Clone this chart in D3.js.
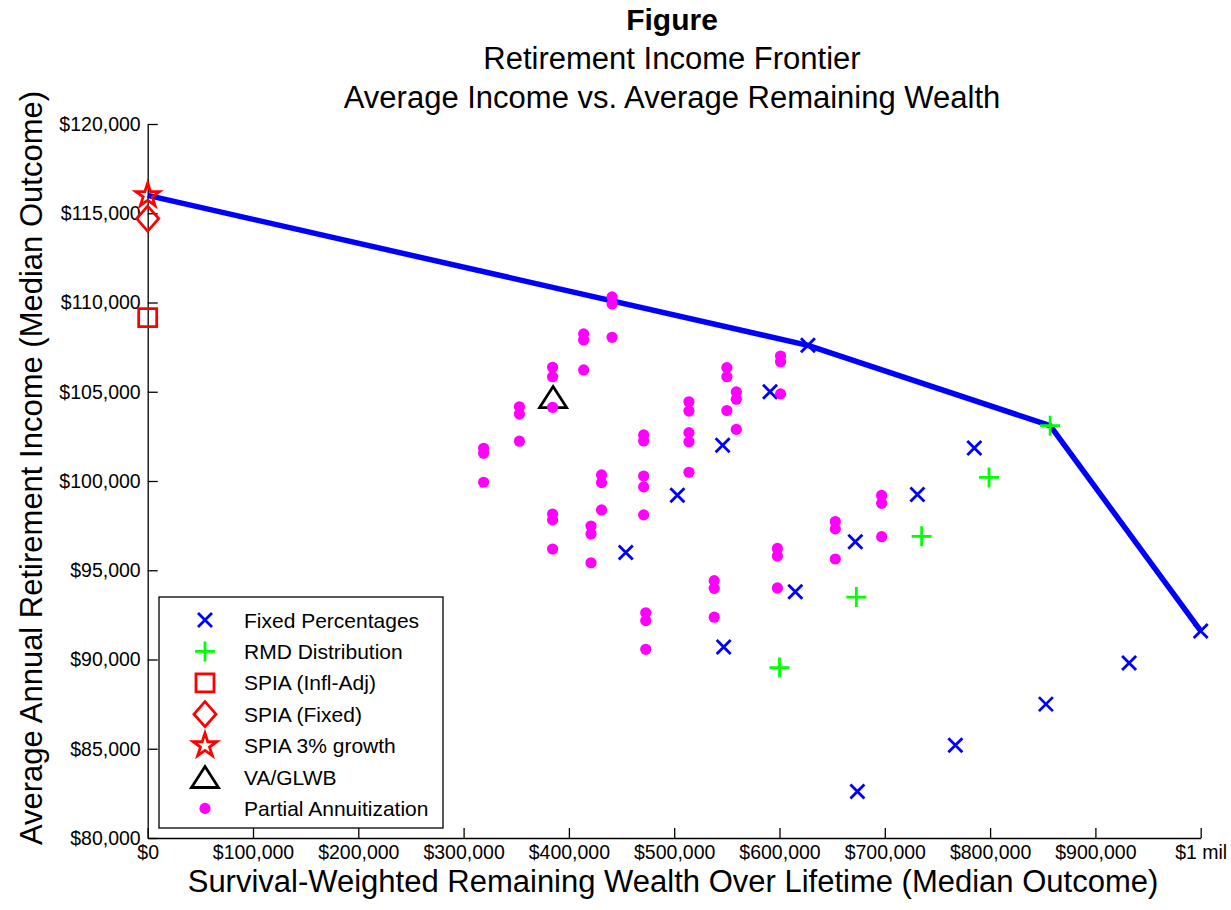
<!DOCTYPE html>
<html>
<head>
<meta charset="utf-8">
<title>Retirement Income Frontier</title>
<script src="https://cdn.jsdelivr.net/npm/d3@7"></script>
<style>
  body { margin: 0; background: #fff; }
  svg { display: block; font-family: "Liberation Sans", Arial, Helvetica, sans-serif; }
  .axis path, .axis line { stroke: #000; stroke-width: 1.3; }
  .axis text { font-size: 19.5px; fill: #000; font-family: "Liberation Sans", Arial, Helvetica, sans-serif; }
</style>
</head>
<body>
<script>
// ---------------------- DATA ----------------------

const fixedWealth = [627000, 591000, 546000, 503000, 454000, 547000, 615000, 672000, 731000, 785000, 1000000, 932000, 853000, 767000, 674000];
const fixedIncome = [107600, 105000, 102000, 99200, 96000, 90700, 93800, 96600, 99250, 101850, 91600, 89800, 87500, 85200, 82600];

const rmdWealth = [857000, 799000, 735000, 673000, 600000];
const rmdIncome = [103100, 100200, 96900, 93500, 89550];

const spiaInflWealth = [0];
const spiaInflIncome = [109150];
const spiaFixedWealth = [0];
const spiaFixedIncome = [114700];
const spia3Wealth = [0];
const spia3Income = [116000];

const vaWealth = [385000];
const vaIncome = [104700];

const partialWealth = [
    319000, 319000, 319000,
    353000, 353000, 353000,
    384500, 384500, 384500, 384500, 384500, 384500,
    414000, 414000, 414000,
    421000, 421000, 421000,
    431000, 431000, 431000,
    441000, 441000, 441000,
    471000, 471000, 471000, 471000, 471000,
    473000, 473000, 473000,
    514000, 514000, 514000, 514000, 514000,
    538000, 538000, 538000,
    550000, 550000, 550000,
    559000, 559000, 559000,
    598000, 598000, 598000,
    601000, 601000, 601000,
    653000, 653000, 653000,
    697000, 697000, 697000
];
const partialIncome = [
    101830, 101550, 99930,
    104160, 103750, 102230,
    106370, 105840, 104130, 98150, 97820, 96190,
    108240, 107900, 106220,
    97480, 97030, 95420,
    100340, 99910, 98380,
    110310, 109920, 108050,
    102580, 102240, 100280, 99670, 98100,
    92620, 92180, 90570,
    104440, 103920, 102710, 102200, 100490,
    94420, 93990, 92370,
    106350, 105840, 103950,
    104990, 104580, 102890,
    96220, 95800, 94010,
    107000, 106680, 104880,
    97730, 97320, 95630,
    99190, 98750, 96880
];

// frontier goes through: SPIA 3% growth, one fixed %, one RMD, the $1 mil fixed %
const frontierWealth = [spia3Wealth[0], fixedWealth[0], rmdWealth[0], fixedWealth[10]];
const frontierIncome = [spia3Income[0], fixedIncome[0], rmdIncome[0], fixedIncome[10]];

const xTickValues = [0, 100000, 200000, 300000, 400000, 500000, 600000, 700000, 800000, 900000, 1000000];
const xTickLabels = ["$0", "$100,000", "$200,000", "$300,000", "$400,000", "$500,000", "$600,000", "$700,000", "$800,000", "$900,000", "$1 mil"];
const yTickValues = [80000, 85000, 90000, 95000, 100000, 105000, 110000, 115000, 120000];
const yTickLabels = ["$80,000", "$85,000", "$90,000", "$95,000", "$100,000", "$105,000", "$110,000", "$115,000", "$120,000"];

const titleLines = ["Figure", "Retirement Income Frontier", "Average Income vs. Average Remaining Wealth"];
const xLabel = "Survival-Weighted Remaining Wealth Over Lifetime (Median Outcome)";
const yLabel = "Average Annual Retirement Income (Median Outcome)";

const legendLabels = ["Fixed Percentages", "RMD Distribution", "SPIA (Infl-Adj)", "SPIA (Fixed)", "SPIA 3% growth", "VA/GLWB", "Partial Annuitization"];

// ---------------------- UTILITY FUNCTIONS ----------------------

function zipPoints(xs, ys) {
    return xs.map((v, i) => ({wealth: v, income: ys[i]}));
}

/**
 * Path string for a MATLAB-like marker, centred on 0,0
 * @param {string} shape
 */
function markerPath(shape) {
    switch (shape) {
        case "x": return "M-7,-7L7,7M-7,7L7,-7";
        case "plus": return "M-10,0H10M0,-10V10";
        case "square": return "M-9,-9H9V9H-9Z";
        case "diamond": return "M0,-12.5L11,0L0,12.5L-11,0Z";
        case "star": return d3.symbol(d3.symbolStar, 175)();
        case "triangle": return "M0,-10.5L13.5,10.5L-13.5,10.5Z";
    }
    return "";
}

function drawMarkers(g, points, shape, color, x, y) {
    g.selectAll(null)
        .data(points)
        .enter().append("path")
        .attr("transform", d => `translate(${x(d.wealth)},${y(d.income)})`)
        .attr("d", markerPath(shape))
        .attr("fill", "none")
        .attr("stroke", color)
        .attr("stroke-width", 2.8);
}

// ---------------------- MAIN RENDER ----------------------

function renderChart() {
    const width = 1231, height = 910;
    const svg = d3.select("body").append("svg")
        .attr("width", width)
        .attr("height", height)
        .style("background", "#fff");

    const x = d3.scaleLinear().domain([0, 1000000]).range([147.7, 1200.7]);
    const y = d3.scaleLinear().domain([80000, 120000]).range([838, 124]);

    // titles
    const titleY = [30, 69, 108];
    svg.selectAll(".title")
        .data(titleLines)
        .enter().append("text")
        .attr("class", "title")
        .attr("x", 672)
        .attr("y", (d, i) => titleY[i])
        .attr("text-anchor", "middle")
        .style("font-size", (d, i) => i === 0 ? "30px" : "31px")
        .style("font-weight", (d, i) => i === 0 ? "bold" : "normal")
        .text(d => d);

    // axes (ticks point inward like matlab)
    svg.append("g")
        .attr("class", "axis")
        .attr("transform", `translate(0,${y(80000)})`)
        .call(d3.axisBottom(x)
            .tickValues(xTickValues)
            .tickFormat((d, i) => xTickLabels[i])
            .tickSizeInner(-10)
            .tickSizeOuter(0)
            .tickPadding(7));

    svg.append("g")
        .attr("class", "axis")
        .attr("transform", `translate(${x(0)},0)`)
        .call(d3.axisLeft(y)
            .tickValues(yTickValues)
            .tickFormat((d, i) => yTickLabels[i])
            .tickSizeInner(-10)
            .tickSizeOuter(0)
            .tickPadding(7));

    svg.append("text")
        .attr("x", 673)
        .attr("y", 892)
        .attr("text-anchor", "middle")
        .style("font-size", "31px")
        .text(xLabel);

    svg.append("text")
        .attr("transform", "translate(42,468) rotate(-90)")
        .attr("text-anchor", "middle")
        .style("font-size", "31px")
        .text(yLabel);

    // frontier line
    const line = d3.line().x(d => x(d.wealth)).y(d => y(d.income));
    svg.append("path")
        .datum(zipPoints(frontierWealth, frontierIncome))
        .attr("d", line)
        .attr("fill", "none")
        .attr("stroke", "#0000ff")
        .attr("stroke-width", 5.5)
        .attr("stroke-linejoin", "round");

    const marks = svg.append("g");
    drawMarkers(marks, zipPoints(fixedWealth, fixedIncome), "x", "#0000ff", x, y);
    drawMarkers(marks, zipPoints(rmdWealth, rmdIncome), "plus", "#00ff00", x, y);
    drawMarkers(marks, zipPoints(spiaInflWealth, spiaInflIncome), "square", "#ff0000", x, y);
    drawMarkers(marks, zipPoints(spiaFixedWealth, spiaFixedIncome), "diamond", "#ff0000", x, y);
    drawMarkers(marks, zipPoints(spia3Wealth, spia3Income), "star", "#ff0000", x, y);
    drawMarkers(marks, zipPoints(vaWealth, vaIncome), "triangle", "#000000", x, y);

    marks.selectAll(".dot")
        .data(zipPoints(partialWealth, partialIncome))
        .enter().append("circle")
        .attr("class", "dot")
        .attr("cx", d => x(d.wealth))
        .attr("cy", d => y(d.income))
        .attr("r", 5.6)
        .attr("fill", "#ff00ff");

    renderLegend(svg);
}

function renderLegend(svg) {
    const shapes = ["x", "plus", "square", "diamond", "star", "triangle", "dot"];
    const colors = ["#0000ff", "#00ff00", "#ff0000", "#ff0000", "#ff0000", "#000000", "#ff00ff"];

    const legend = svg.append("g").attr("transform", "translate(159,597)");
    legend.append("rect")
        .attr("width", 284)
        .attr("height", 231)
        .attr("fill", "#fff")
        .attr("stroke", "#000")
        .attr("stroke-width", 1.3);

    const rows = legend.selectAll(".row")
        .data(legendLabels)
        .enter().append("g")
        .attr("transform", (d, i) => `translate(0,${23 + i * 31.4})`);

    rows.each(function (d, i) {
        const row = d3.select(this);
        if (shapes[i] === "dot") {
            row.append("circle").attr("cx", 46).attr("r", 5.6).attr("fill", colors[i]);
        } else {
            row.append("path")
                .attr("transform", "translate(46,0)")
                .attr("d", markerPath(shapes[i]))
                .attr("fill", "none")
                .attr("stroke", colors[i])
                .attr("stroke-width", 2.8);
        }
        row.append("text")
            .attr("x", 85)
            .attr("dy", "0.36em")
            .style("font-size", "21px")
            .text(d);
    });
}

renderChart();
</script>
</body>
</html>
